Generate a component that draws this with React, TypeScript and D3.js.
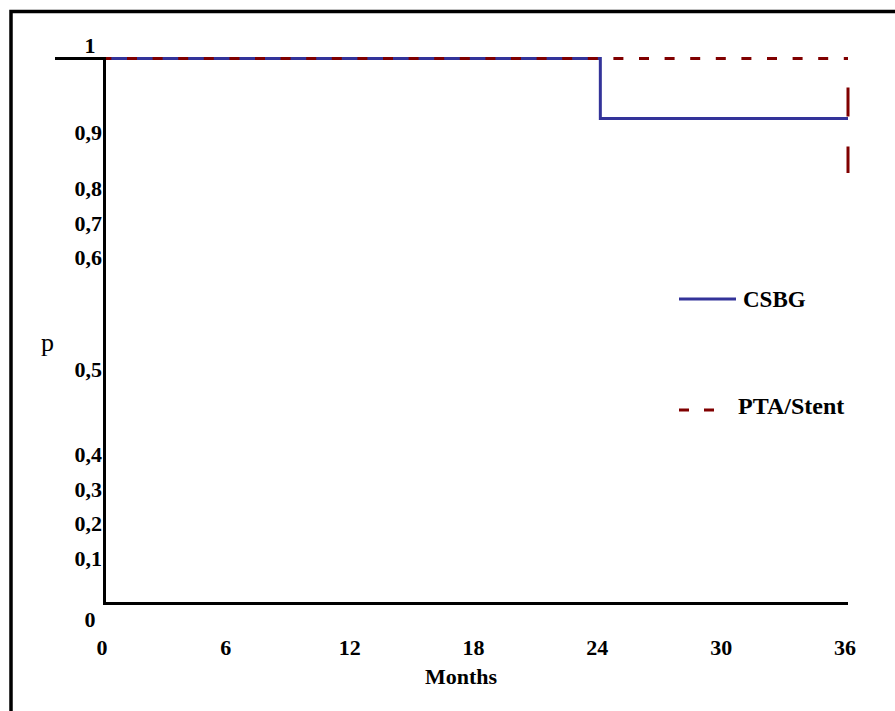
import React, { useEffect, useRef } from "react";
import * as d3 from "d3";

// Months on the x axis
const xTicks = [0, 6, 12, 18, 24, 30, 36];
// y tick labels (the original places them unevenly)
const yTickValues = [1, 0.9, 0.8, 0.7, 0.6, 0.5, 0.4, 0.3, 0.2, 0.1, 0];
const yTickLabels = ["1", "0,9", "0,8", "0,7", "0,6", "0,5", "0,4", "0,3", "0,2", "0,1", "0"];

// Survival steps
const csbgMonths = [0, 24, 24, 36];
const csbgP = [1, 1, 0.89, 0.89];
const ptaMonths = [0, 36, 36];
const ptaP = [1, 1, 0.79];

const seriesNames = ["CSBG", "PTA/Stent"];

const BLUE = "#333399";
const RED = "#800000";
const FONT = "'Liberation Serif', 'Times New Roman', serif";

export default function App() {
  const svgRef = useRef<SVGSVGElement>(null);

  useEffect(() => {
    const W = 895, H = 711;
    const svg = d3.select(svgRef.current).attr("width", W).attr("height", H);
    svg.selectAll("*").remove();

    const x = d3.scaleLinear().domain([0, 36]).range([105, 848]);
    const y = d3.scaleLinear().domain([0, 1]).range([603.5, 58.5]);
    // label baselines follow the hand-placed labels of the original
    const yLab = d3.scaleLinear()
      .domain(yTickValues)
      .range([53, 140, 196, 231, 265, 377, 462, 497, 531, 566, 627]);

    // outer frame (runs off right and bottom)
    svg.append("path")
      .attr("d", `M11,${H + 10}V11.5H${W + 10}`)
      .attr("fill", "none").attr("stroke", "#000").attr("stroke-width", 3.5);

    // CSBG step line
    const pts = (m: number[], p: number[]) => m.map((d, i) => [x(d), y(p[i])] as [number, number]);
    const line = d3.line();
    svg.append("path")
      .attr("d", line(pts(csbgMonths, csbgP)))
      .attr("fill", "none").attr("stroke", BLUE).attr("stroke-width", 3)
      .attr("stroke-linejoin", "miter");

    // PTA/Stent dashed step line, one segment at a time
    const pp = pts(ptaMonths, ptaP);
    for (let i = 1; i < pp.length; i++) {
      const a = pp[i - 1], b = pp[i];
      const vertical = a[0] === b[0];
      svg.append("path")
        .attr("d", line([a, b]))
        .attr("fill", "none").attr("stroke", RED).attr("stroke-width", 3)
        .attr("stroke-dasharray", vertical ? "29 30" : "10 15.6")
        .attr("stroke-dashoffset", vertical ? 30 : 3.6);
    }

    // axes
    const ax = svg.append("g").attr("stroke", "#000").attr("stroke-width", 3).attr("fill", "none");
    ax.append("line").attr("x1", x(0) - 0.5).attr("x2", x(0) - 0.5).attr("y1", y(1) - 1.5).attr("y2", y(0) + 1.5);
    ax.append("line").attr("x1", x(0) - 2).attr("x2", x(36)).attr("y1", y(0)).attr("y2", y(0));
    ax.append("line").attr("x1", 55).attr("x2", x(0)).attr("y1", y(1)).attr("y2", y(1));

    // y tick labels
    svg.append("g").selectAll("text").data(yTickValues).join("text")
      .attr("x", d => (Number.isInteger(d) ? 90 : 102))
      .attr("y", d => yLab(d))
      .attr("text-anchor", d => (Number.isInteger(d) ? "middle" : "end"))
      .attr("font-family", FONT).attr("font-weight", "bold").attr("font-size", 22)
      .text((_, i) => yTickLabels[i]);

    // x tick labels
    svg.append("g").selectAll("text").data(xTicks).join("text")
      .attr("x", d => x(d) - 3)
      .attr("y", 655)
      .attr("text-anchor", "middle")
      .attr("font-family", FONT).attr("font-weight", "bold").attr("font-size", 22)
      .text(d => String(d));

    svg.append("text")
      .attr("x", 461).attr("y", 684).attr("text-anchor", "middle")
      .attr("font-family", FONT).attr("font-weight", "bold").attr("font-size", 22)
      .text("Months");

    svg.append("text")
      .attr("x", 41).attr("y", 351)
      .attr("font-family", FONT).attr("font-size", 26)
      .text("p");

    // legend
    const leg = svg.append("g");
    leg.append("line").attr("x1", 679).attr("x2", 736).attr("y1", 299).attr("y2", 299)
      .attr("stroke", BLUE).attr("stroke-width", 3);
    leg.append("text").attr("x", 743).attr("y", 307)
      .attr("font-family", FONT).attr("font-weight", "bold").attr("font-size", 23)
      .text(seriesNames[0]);
    leg.append("line").attr("x1", 679).attr("x2", 714).attr("y1", 410).attr("y2", 410)
      .attr("stroke", RED).attr("stroke-width", 3).attr("stroke-dasharray", "10 15");
    leg.append("text").attr("x", 738).attr("y", 414)
      .attr("font-family", FONT).attr("font-weight", "bold").attr("font-size", 24)
      .text(seriesNames[1]);
  }, []);

  return (
    <svg ref={svgRef} style={{ position: "absolute", left: 0, top: 0, display: "block", background: "#fff" }} />
  );
}
